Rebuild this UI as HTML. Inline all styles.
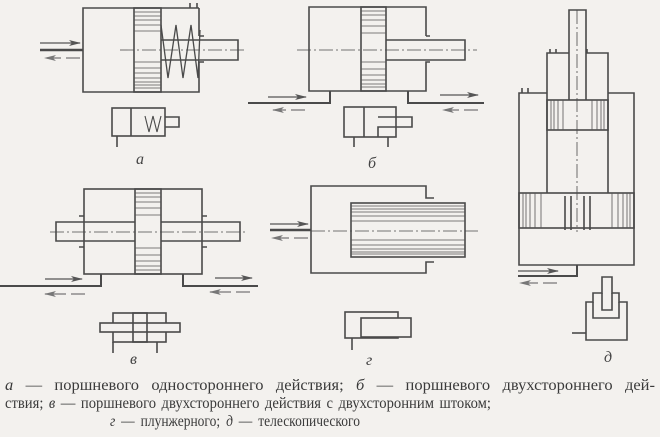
<!DOCTYPE html>
<html><head><meta charset="utf-8">
<style>
html,body{margin:0;padding:0;background:#f3f1ee;}
svg{display:block}
</style></head><body>
<svg width="660" height="437" viewBox="0 0 660 437" xmlns="http://www.w3.org/2000/svg">
<defs>
<marker id="ah" markerWidth="12" markerHeight="6" refX="11" refY="3" orient="auto" markerUnits="userSpaceOnUse">
<path d="M0,0 L12,3 L0,6 L3,3 Z" fill="#555"/></marker>
<marker id="ahd" markerWidth="12" markerHeight="6" refX="11" refY="3" orient="auto" markerUnits="userSpaceOnUse">
<path d="M0,0 L12,3 L0,6 L3,3 Z" fill="#777"/></marker>
</defs>
<rect width="660" height="437" fill="#f3f1ee"/>
<g fill="none" stroke="#4a4a4a" stroke-width="1.6">
<path d="M199,8 H83 V92 H199 V62 H204"/>
<path d="M199,36 V8 M199,36 H204 M190,3 V8 M197,3 V8"/>
<rect x="134" y="8" width="27" height="84"/>
<path d="M161,40 H238 V60 H161"/>
<path d="M161,25 L168,78 L176,25 L183,78 L191,25 L198,78 L200,30" stroke-width="1.3"/>
<path d="M40,50 H83" stroke-width="2.5"/>
<path d="M40,43 H80" stroke="#555" stroke-width="1.3" marker-end="url(#ah)"/>
<path d="M80,58 H45" stroke="#777" stroke-width="1.3" stroke-dasharray="14,5" marker-end="url(#ahd)"/>
<path d="M120,50 H247" stroke-width="0.8" stroke-dasharray="14,3,2,3"/>
<rect x="112" y="108" width="53" height="28"/>
<path d="M131,108 V136 M165,117 H179 V127 H165 M117,136 V147"/>
<path d="M145,116 L149,132 L153,116 L157,132 L161,116" stroke-width="1.1"/>
<path d="M426,36 V7 H309 V91 H426 V62 H430 M426,36 H430"/>
<rect x="361" y="7" width="25" height="84"/>
<path d="M386,40 H465 V60 H386"/>
<path d="M330,91 V103 H248" stroke-width="2"/>
<path d="M408,91 V103 H484" stroke-width="2"/>
<path d="M268,97 H306" stroke="#555" stroke-width="1.3" marker-end="url(#ah)"/>
<path d="M305,110 H273" stroke="#777" stroke-width="1.3" stroke-dasharray="14,5" marker-end="url(#ahd)"/>
<path d="M440,95 H478" stroke="#555" stroke-width="1.3" marker-end="url(#ah)"/>
<path d="M478,110 H443" stroke="#777" stroke-width="1.3" stroke-dasharray="14,5" marker-end="url(#ahd)"/>
<path d="M297,50 H477" stroke-width="0.8" stroke-dasharray="14,3,2,3"/>
<rect x="344" y="107" width="52" height="30"/>
<path d="M364,107 V137 M378,117 H412 V127 H378 V137 M354,137 V147 M388,137 V147"/>
<rect x="84" y="189" width="118" height="85"/>
<rect x="135" y="189" width="26" height="85"/>
<path d="M135,222 H56 V241 H135 M161,222 H240 V241 H161"/>
<path d="M79,216 H84 M79,247 H84 M202,216 H207 M202,247 H207"/>
<path d="M101,274 V286 H0" stroke-width="2"/>
<path d="M183,274 V286 H258" stroke-width="2"/>
<path d="M45,279 H82" stroke="#555" stroke-width="1.3" marker-end="url(#ah)"/>
<path d="M85,294 H45" stroke="#777" stroke-width="1.3" stroke-dasharray="14,5" marker-end="url(#ahd)"/>
<path d="M215,278 H252" stroke="#555" stroke-width="1.3" marker-end="url(#ah)"/>
<path d="M250,292 H210" stroke="#777" stroke-width="1.3" stroke-dasharray="14,5" marker-end="url(#ahd)"/>
<path d="M50,232 H245" stroke-width="0.8" stroke-dasharray="14,3,2,3"/>
<rect x="113" y="313" width="53" height="29"/>
<rect x="133" y="313" width="14" height="29"/>
<rect x="100" y="323" width="80" height="9" fill="#f3f1ee"/>
<path d="M133,323 V332 M147,323 V332 M113,342 V353 M157,342 V353"/>
<path d="M434,198 H426 V186 H311 V273 H426 V262 H434"/>
<rect x="351" y="203" width="114" height="54"/>
<path d="M270,230 H311" stroke-width="2.5"/>
<path d="M270,224 H308" stroke="#555" stroke-width="1.3" marker-end="url(#ah)"/>
<path d="M308,238 H272" stroke="#777" stroke-width="1.3" stroke-dasharray="14,5" marker-end="url(#ahd)"/>
<path d="M311,231 H478" stroke-width="0.8" stroke-dasharray="14,3,2,3"/>
<rect x="345" y="312" width="53" height="26"/>
<rect x="361" y="318" width="50" height="19" fill="#f3f1ee"/>
<path d="M352,338 V350"/>
<path d="M547,93 H519 V265 H634 V93 H608"/>
<path d="M522,88 V93 M528,88 V93"/>
<path d="M569,53 H547 V193 M608,193 V53 H586"/>
<path d="M550,49 V53 M556,49 V53 M587,49 V53"/>
<rect x="547" y="100" width="61" height="30"/>
<rect x="519" y="193" width="115" height="35"/>
<path d="M569,100 V10 H586 V100"/>
<path d="M565,196 V230 M571,196 V230 M584,196 V230 M590,196 V230"/>
<path d="M577,10 V232" stroke-width="0.8" stroke-dasharray="14,3,2,3"/>
<path d="M577,265 V276 H518" stroke-width="2"/>
<path d="M518,271 H558" stroke="#555" stroke-width="1.3" marker-end="url(#ah)"/>
<path d="M557,283 H520" stroke="#777" stroke-width="1.3" stroke-dasharray="14,5" marker-end="url(#ahd)"/>
<path d="M586,340 V302 H593 V293 H602 V277 H612 V293 H619 V302 H627 V340 Z"/>
<path d="M593,302 V318 H619 V302 M602,293 V310 H612 V293"/>
<path d="M572,333 H586"/>
</g>
<g stroke="#555" stroke-width="0.8">
<path d="M134,12 H161 M134,16 H161 M134,20 H161 M134,25 H161 M134,31 H161 M134,62 H161 M134,68 H161 M134,73 H161 M134,78 H161 M134,82 H161 M134,85 H161 M134,88 H161"/>
<path d="M361,11 H386 M361,15 H386 M361,20 H386 M361,26 H386 M361,33 H386 M361,62 H386 M361,69 H386 M361,75 H386 M361,80 H386 M361,84 H386 M361,87 H386"/>
<path d="M135,193 H161 M135,197 H161 M135,202 H161 M135,208 H161 M135,215 H161 M135,248 H161 M135,255 H161 M135,261 H161 M135,266 H161 M135,270 H161"/>
<path d="M351,206 H465 M351,209 H465 M351,212 H465 M351,216 H465 M351,221 H465 M351,240 H465 M351,245 H465 M351,249 H465 M351,252 H465 M351,254 H465"/>
<path d="M551,100 V130 M554,100 V130 M558,100 V130 M563,100 V130 M592,100 V130 M597,100 V130 M601,100 V130 M604,100 V130"/>
<path d="M523,193 V228 M526,193 V228 M530,193 V228 M535,193 V228 M541,193 V228 M612,193 V228 M618,193 V228 M623,193 V228 M627,193 V228 M630,193 V228"/>
</g>
<g font-family="'Liberation Serif', serif" font-style="italic" font-size="16" fill="#444">
<text x="136" y="164">а</text>
<text x="368" y="168">б</text>
<text x="130" y="364">в</text>
<text x="366" y="365">г</text>
<text x="604" y="362">д</text>
</g>
<g font-family="'Liberation Serif', serif" font-size="16" fill="#3a3a3a">
<text x="5" y="390" word-spacing="8" textLength="650" lengthAdjust="spacingAndGlyphs"><tspan font-style="italic">а</tspan> — поршневого одностороннего действия; <tspan font-style="italic">б</tspan> — поршневого двухстороннего дей-</text>
<text x="5" y="408" word-spacing="2" textLength="486" lengthAdjust="spacingAndGlyphs">ствия; <tspan font-style="italic">в</tspan> — поршневого двухстороннего действия с двухсторонним штоком;</text>
<text x="110" y="426" word-spacing="3" textLength="250" lengthAdjust="spacingAndGlyphs"><tspan font-style="italic">г</tspan> — плунжерного; <tspan font-style="italic">д</tspan> — телескопического</text>
</g>
</svg>
</body></html>
